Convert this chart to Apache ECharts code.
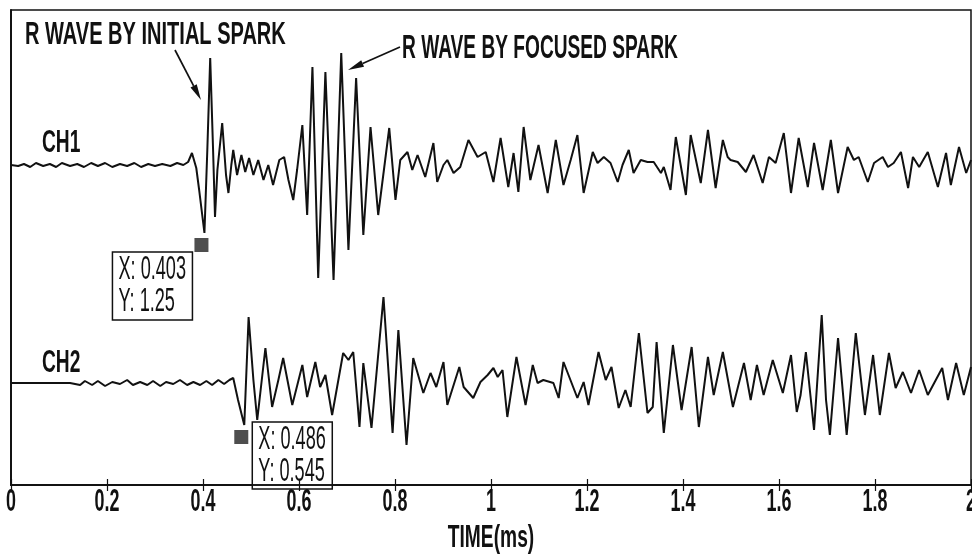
<!DOCTYPE html>
<html>
<head>
<meta charset="utf-8">
<script src="https://cdn.jsdelivr.net/npm/echarts@6/dist/echarts.min.js"></script>
<style>
html,body{margin:0;padding:0;background:#fff;}
#chart{width:972px;height:558px;}
</style>
</head>
<body>
<div id="chart"></div>
<script>
// ---- data (time in ms, amplitude in arbitrary plot units) ----
var ch1Time = [
0.000,0.015,0.027,0.040,0.052,0.067,0.081,0.094,0.106,0.123,
0.138,0.152,0.167,0.181,0.196,0.211,0.227,0.242,0.257,0.271,
0.286,0.300,0.315,0.332,0.346,0.359,0.369,0.377,0.386,0.392,
0.403,0.409,0.415,0.421,0.425,0.430,0.440,0.448,0.453,0.459,
0.463,0.471,0.480,0.488,0.496,0.505,0.515,0.526,0.536,0.546,
0.559,0.569,0.578,0.588,0.596,0.607,0.617,0.628,0.640,0.655,
0.672,0.688,0.703,0.719,0.734,0.749,0.765,0.788,0.801,0.811,
0.826,0.836,0.847,0.863,0.880,0.888,0.901,0.909,0.922,0.936,
0.953,0.972,0.989,1.005,1.020,1.036,1.047,1.057,1.068,1.082,
1.099,1.118,1.135,1.151,1.166,1.180,1.193,1.212,1.222,1.235,
1.249,1.264,1.274,1.287,1.297,1.312,1.326,1.339,1.354,1.360,
1.374,1.385,1.406,1.416,1.437,1.452,1.468,1.483,1.493,1.499,
1.514,1.531,1.547,1.566,1.579,1.593,1.610,1.625,1.641,1.660,
1.673,1.691,1.708,1.723,1.743,1.756,1.766,1.785,1.798,1.816,
1.827,1.839,1.854,1.869,1.879,1.892,1.910,1.931,1.948,1.958,
1.975,1.990,2.000];
var ch1Value = [
3.20,3.19,3.21,3.18,3.22,3.19,3.21,3.18,3.22,3.19,
3.21,3.18,3.22,3.19,3.22,3.18,3.21,3.19,3.22,3.18,
3.21,3.19,3.21,3.19,3.22,3.20,3.23,3.32,3.17,2.95,
2.52,3.35,4.27,3.35,2.68,3.15,3.62,3.10,2.92,3.20,
3.35,3.10,3.30,3.13,3.27,3.10,3.25,3.05,3.20,3.00,
3.25,3.28,3.05,2.85,3.15,3.60,2.70,4.18,2.07,4.13,
2.05,4.32,2.35,4.07,2.50,3.58,2.70,3.57,2.85,3.25,
3.33,3.15,3.30,3.08,3.42,3.03,3.20,3.25,3.12,3.18,
3.45,3.28,3.33,3.03,3.47,2.98,3.32,2.93,3.58,3.05,
3.40,2.92,3.45,3.00,3.25,3.50,2.92,3.33,3.22,3.28,
3.22,3.03,3.20,3.35,3.12,3.25,3.23,3.23,3.12,3.18,
2.95,3.48,2.90,3.50,3.02,3.55,2.97,3.45,3.28,3.25,
3.23,3.13,3.30,3.02,3.28,3.22,3.52,2.92,3.47,2.98,
3.42,2.95,3.45,2.92,3.38,3.25,3.28,3.03,3.22,3.28,
3.18,3.22,3.33,2.97,3.28,3.18,3.33,2.98,3.32,3.00,
3.38,3.12,3.25];
var ch2Time = [
0.000,0.060,0.123,0.144,0.154,0.169,0.181,0.196,0.211,0.227,
0.242,0.254,0.269,0.284,0.296,0.311,0.323,0.338,0.352,0.367,
0.380,0.394,0.407,0.419,0.432,0.444,0.455,0.463,0.473,0.486,
0.495,0.505,0.513,0.530,0.544,0.557,0.567,0.586,0.607,0.617,
0.634,0.644,0.655,0.669,0.692,0.703,0.713,0.722,0.726,0.734,
0.751,0.776,0.795,0.807,0.824,0.838,0.859,0.874,0.886,0.901,
0.909,0.934,0.943,0.963,0.978,0.993,1.005,1.014,1.024,1.034,
1.053,1.072,1.087,1.097,1.109,1.130,1.141,1.151,1.180,1.193,
1.203,1.224,1.239,1.251,1.266,1.280,1.291,1.308,1.326,1.337,
1.345,1.360,1.379,1.397,1.418,1.433,1.452,1.464,1.483,1.504,
1.527,1.541,1.554,1.568,1.587,1.608,1.625,1.637,1.645,1.656,
1.673,1.689,1.698,1.706,1.723,1.741,1.760,1.779,1.796,1.810,
1.829,1.843,1.858,1.875,1.892,1.910,1.940,1.952,1.969,1.985,
2.000];
var ch2Value = [
1.02,1.02,1.02,1.00,1.04,1.00,1.04,0.99,1.03,1.01,
1.05,1.00,1.03,1.00,1.04,0.99,1.03,1.01,1.05,1.00,
1.03,1.00,1.04,1.00,1.05,1.01,1.05,1.07,0.85,0.60,
1.68,1.05,0.65,1.37,0.78,1.05,1.27,0.80,1.20,0.88,
1.23,0.98,1.10,0.70,1.32,1.25,1.33,0.82,0.58,1.22,
0.57,1.88,0.52,1.55,0.40,1.27,0.92,1.12,0.98,1.23,
0.80,1.18,0.98,0.87,1.03,1.10,1.17,1.08,1.15,0.68,
1.28,0.80,1.20,1.02,1.05,1.02,0.87,1.23,0.87,1.03,
0.80,1.33,1.05,1.18,0.77,0.95,0.78,1.52,0.72,0.78,
1.43,0.52,1.40,0.75,1.38,0.58,1.28,0.90,1.33,0.78,
1.22,0.85,1.20,0.90,1.25,0.92,1.30,0.73,0.90,1.33,
0.55,1.70,0.85,0.50,1.47,0.50,1.52,0.70,1.30,0.70,
1.32,0.97,1.13,0.92,1.15,0.90,1.17,0.85,1.22,0.90,
1.18];
// data tips (cursor readouts shown in the figure)
var tipTimes = [0.403, 0.486];
var tipReadX = ['0.403', '0.486'];
var tipReadY = ['1.25', '0.545'];
// x axis
var xMin = 0, xMax = 2, xStep = 0.2;
var xTickLabels = ['0','0.2','0.4','0.6','0.8','1','1.2','1.4','1.6','1.8','2'];
var axisTitle = 'TIME(ms)';
var channelNames = ['CH1', 'CH2'];
var notes = ['R WAVE BY INITIAL SPARK', 'R WAVE BY FOCUSED SPARK'];

function zip(t, v){ var o=[]; for(var i=0;i<t.length;i++) o.push([t[i], v[i]]); return o; }
function valueAt(t, v, x){ for(var i=0;i<t.length;i++){ if(Math.abs(t[i]-x)<1e-9) return v[i]; } return null; }

var FONT = '"Liberation Sans"';
var chart = echarts.init(document.getElementById('chart'), null, {renderer:'canvas'});

function txt(x, y, s, size, sx, weight, align){
  return {type:'text', x:x, y:y, scaleX:sx, scaleY:1, silent:true,
    style:{text:s, fill:'#111', font:(weight||'normal')+' '+size+'px '+FONT, verticalAlign:'middle', align:align||'left'}};
}
function arrow(x1,y1,x2,y2){
  var dx=x2-x1, dy=y2-y1, L=Math.sqrt(dx*dx+dy*dy), ux=dx/L, uy=dy/L;
  var bx=x2-16*ux, by=y2-16*uy, px=-uy*3.5, py=ux*3.5;
  return [
    {type:'line', silent:true, shape:{x1:x1,y1:y1,x2:bx,y2:by}, style:{stroke:'#111', lineWidth:1.7}},
    {type:'polygon', silent:true, shape:{points:[[x2,y2],[bx+px,by+py],[bx-px,by-py]]}, style:{fill:'#111'}}
  ];
}
function tipBox(x, y, w, h, l1, l2){
  return {type:'group', x:x, y:y, children:[
    {type:'rect', shape:{x:0,y:0,width:w,height:h}, style:{fill:'#fff', stroke:'#111', lineWidth:1.5}},
    {type:'text', x:6, y:h*0.27, scaleX:0.55, style:{text:l1, fill:'#111', font:'normal 33px '+FONT, verticalAlign:'middle'}},
    {type:'text', x:6, y:h*0.74, scaleX:0.55, style:{text:l2, fill:'#111', font:'normal 33px '+FONT, verticalAlign:'middle'}}
  ]};
}

var baseGraphics = [];
baseGraphics.push(txt(25, 35, notes[0], 32, 0.626, 'bold'));
baseGraphics.push(txt(402, 49, notes[1], 33, 0.58, 'bold'));
baseGraphics.push(txt(42, 143, channelNames[0], 32, 0.6, 'bold'));
baseGraphics.push(txt(42, 363, channelNames[1], 32, 0.6, 'bold'));
baseGraphics = baseGraphics.concat(arrow(175, 50, 201, 100));
baseGraphics = baseGraphics.concat(arrow(400, 47, 348, 70));

var axisCommon = {
  type:'value', min:xMin, max:xMax, interval:xStep,
  axisLine:{show:true, lineStyle:{color:'#111', width:1.5}},
  axisTick:{show:true, inside:true, length:6, lineStyle:{color:'#111', width:1.2}},
  axisLabel:{show:false},
  splitLine:{show:false}
};

var option = {
  animation:false,
  backgroundColor:'#fff',
  grid:{left:11, right:1, top:10, bottom:73, containLabel:false, show:true, borderColor:'#111', borderWidth:1.5, backgroundColor:'transparent'},
  xAxis:[
    Object.assign({}, axisCommon, {position:'bottom'}),
    Object.assign({}, axisCommon, {position:'top'})
  ],
  yAxis:[
    {type:'value', min:0, max:4.75, position:'left', axisLine:{show:true, lineStyle:{color:'#111', width:1.5}}, axisTick:{show:false}, axisLabel:{show:false}, splitLine:{show:false}},
    {type:'value', min:0, max:4.75, position:'right', axisLine:{show:true, lineStyle:{color:'#111', width:1.5}}, axisTick:{show:false}, axisLabel:{show:false}, splitLine:{show:false}}
  ],
  series:[
    {name:channelNames[0], type:'line', data:zip(ch1Time, ch1Value), showSymbol:false, symbol:'none', lineStyle:{color:'#111', width:2}, z:3},
    {name:channelNames[1], type:'line', data:zip(ch2Time, ch2Value), showSymbol:false, symbol:'none', lineStyle:{color:'#111', width:2}, z:3},
    {type:'scatter', symbol:'rect', symbolSize:14, symbolOffset:[-3, 12], itemStyle:{color:'#222'}, z:4,
      data:[[tipTimes[0], valueAt(ch1Time, ch1Value, tipTimes[0])],[tipTimes[1], valueAt(ch2Time, ch2Value, tipTimes[1])]]}
  ],
  graphic:baseGraphics
};
chart.setOption(option);

// tick labels (condensed lettering) and data tips placed through the axis scales
function finish(){
  var g = baseGraphics.slice();
  var yBottom = chart.convertToPixel({yAxisIndex:0}, 0);
  for (var i=0;i<xTickLabels.length;i++){
    var px = chart.convertToPixel({xAxisIndex:0}, xMin + i*xStep);
    g.push(txt(px, yBottom+17, xTickLabels[i], 32, 0.56, 'bold', 'center'));
  }
  var xMid = chart.convertToPixel({xAxisIndex:0}, (xMin+xMax)/2);
  g.push(txt(xMid, yBottom+53, axisTitle, 32, 0.6, 'bold', 'center'));
  var p1 = chart.convertToPixel({xAxisIndex:0, yAxisIndex:0}, [tipTimes[0], valueAt(ch1Time, ch1Value, tipTimes[0])]);
  var p2 = chart.convertToPixel({xAxisIndex:0, yAxisIndex:0}, [tipTimes[1], valueAt(ch2Time, ch2Value, tipTimes[1])]);
  g.push(tipBox(p1[0]-92, p1[1]+19, 80, 68, 'X: '+tipReadX[0], 'Y: '+tipReadY[0]));
  g.push(tipBox(p2[0]+8, p2[1]-3, 80, 67, 'X: '+tipReadX[1], 'Y: '+tipReadY[1]));
  chart.setOption({graphic:g}, {replaceMerge:['graphic']});
}
finish();
</script>
</body>
</html>
